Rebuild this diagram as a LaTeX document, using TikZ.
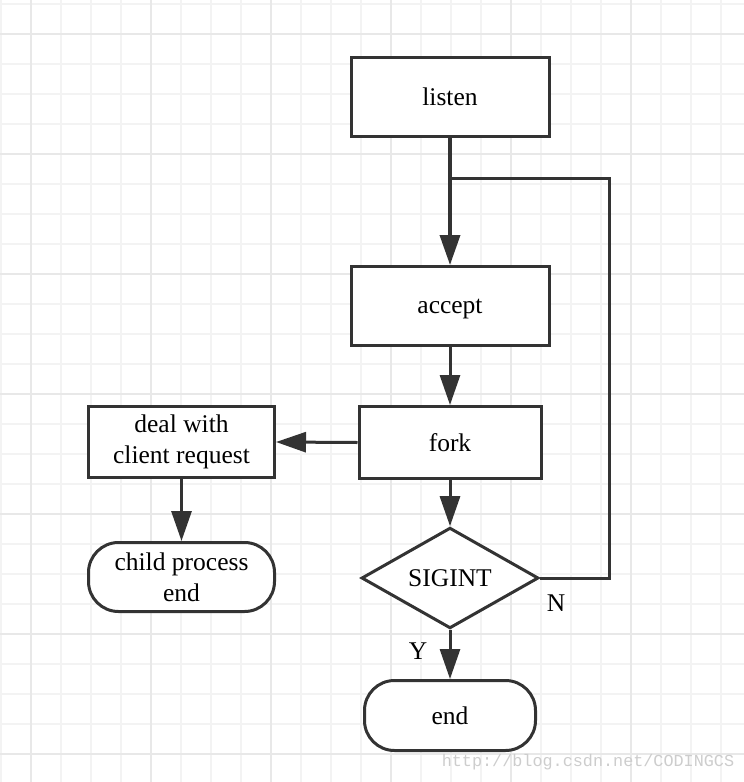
\documentclass[tikz,border=0pt]{standalone}
\usepackage{fontspec}
\setmainfont{Liberation Serif}
\newfontfamily\wmfont{Liberation Mono}
\usetikzlibrary{shapes.geometric,arrows.meta}
\definecolor{lc}{HTML}{333333}
\definecolor{gminorc}{HTML}{F3F3F3}
\definecolor{gmajorc}{HTML}{E8E8E8}
\definecolor{wmc}{HTML}{CDCDCD}
\begin{document}
\begin{tikzpicture}[x=1pt,y=-1pt,
  txt/.style={font=\fontsize{25.5}{31}\selectfont},
  box/.style={txt,draw=lc,line width=3pt,fill=white,inner sep=0pt,align=center,line join=miter},
  stadium/.style={box,rounded corners=30pt},
  decision/.style={box,diamond},
  conn/.style={draw=lc,line width=3pt,line join=miter},
  arr/.style={conn,-{Triangle[length=30pt,width=20pt]}},
  gminor/.style={draw=gminorc,line width=1.6pt},
  gmajor/.style={draw=gmajorc,line width=1.8pt}
]
\useasboundingbox[fill=white] (0,0) rectangle (744,782);
% grid
\foreach \i in {0,...,24} {\draw[gminor] (1+30*\i,0) -- (1+30*\i,782);}
\foreach \i in {0,...,25} {\draw[gminor] (0,4+30*\i) -- (744,4+30*\i);}
\foreach \i in {0,...,5} {\draw[gmajor] (31+120*\i,0) -- (31+120*\i,782);}
\foreach \i in {0,...,6} {\draw[gmajor] (0,34+120*\i) -- (744,34+120*\i);}

% nodes
\node[box,minimum width=198pt,minimum height=79pt] (listen) at (450,96.5) {listen};
\node[box,minimum width=198pt,minimum height=79pt,text depth=0pt] (accept) at (450,306) {accept};
\node[box,minimum width=182pt,minimum height=72pt] (fork) at (450,442.5) {fork};
\node[box,minimum width=186pt,minimum height=71pt] (deal) at (181.5,442) {deal with\\client request};
\node[stadium,minimum width=186pt,minimum height=69pt] (child) at (181.5,577) {child process\\end};
\node[decision,minimum width=177pt,minimum height=95pt] (sig) at (450,578) {SIGINT};
\node[stadium,minimum width=171pt,minimum height=70pt] (end) at (450,715.5) {end};

% connectors
\coordinate (j) at (450,178);
\draw[arr,line width=3.6pt] (listen.south) -- (accept.north);
\draw[arr] (accept.south) -- (fork.north);
\draw[arr] (fork.south) -- (sig.north);
\draw[arr] (fork.west) -- (deal.east);
\draw[arr] (deal.south) -- (child.north);
\draw[arr] (sig.south) -- (end.north);
\draw[conn] (sig.east) -- ++(69,0) |- (j);

% labels
\node[txt] (nlab) at (556,603) {N};
\node[txt] (ylab) at (418,651) {Y};
\node[font=\wmfont\fontsize{16.8}{18}\selectfont,text=wmc] (wm) at (588,762) {http://blog.csdn.net/CODINGCS};
\end{tikzpicture}
\end{document}
